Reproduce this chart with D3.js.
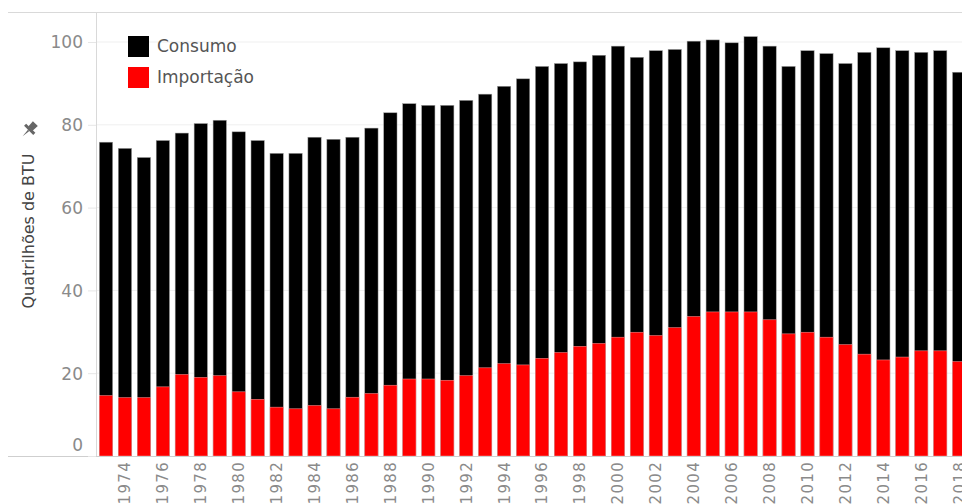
<!DOCTYPE html>
<html>
<head>
<meta charset="utf-8">
<script src="https://cdn.jsdelivr.net/npm/d3@7"></script>
<style>
  html, body { margin: 0; padding: 0; background: #fff; }
  svg { display: block; font-family: "DejaVu Sans", sans-serif; }
</style>
</head>
<body>
<svg id="chart" width="962" height="504"></svg>
<script>
// data (quadrillion BTU)
const years = d3.range(1973, 2019);
const consumo = [
  75.8, 74.3, 72.1, 76.2, 78.0, 80.3, 81.1, 78.3, 76.2, 73.1,
  73.1, 77.0, 76.5, 77.0, 79.2, 82.9, 85.1, 84.7, 84.7, 85.9,
  87.4, 89.3, 91.1, 94.1, 94.8, 95.2, 96.8, 99.0, 96.3, 97.9,
  98.2, 100.2, 100.5, 99.8, 101.3, 99.0, 94.1, 97.9, 97.2, 94.8,
  97.5, 98.6, 97.9, 97.5, 97.9, 92.7
];
const importacao = [
  14.6, 14.1, 14.1, 16.7, 19.7, 19.0, 19.4, 15.5, 13.7, 11.8,
  11.4, 12.2, 11.4, 14.2, 15.1, 17.1, 18.6, 18.6, 18.3, 19.4,
  21.3, 22.3, 22.0, 23.6, 25.0, 26.5, 27.2, 28.7, 29.9, 29.1,
  31.0, 33.7, 34.8, 34.8, 34.8, 32.9, 29.5, 29.9, 28.7, 26.9,
  24.6, 23.2, 23.9, 25.4, 25.4, 22.8
];
const yTicks = [0, 20, 40, 60, 80, 100];
const legendItems = [
  { label: 'Consumo', color: '#000' },
  { label: 'Importação', color: '#f00' }
];

const svg = d3.select('#chart');
const width = 962;

const margin = { top: 12, left: 96, bottom: 456 };
const step = 18.96;

const x = d3.scaleBand()
  .domain(years)
  .range([96.5, 96.5 + years.length * step])
  .paddingInner(0.3)
  .paddingOuter(0.15);

const y = d3.scaleLinear()
  .domain([0, (456 - 12) / 4.14])
  .range([margin.bottom, margin.top]);

// gridlines
svg.append('g')
  .selectAll('line')
  .data(yTicks.filter(d => d > 0))
  .join('line')
  .attr('x1', margin.left)
  .attr('x2', width)
  .attr('y1', d => y(d))
  .attr('y2', d => y(d))
  .attr('stroke', '#efefef')
  .attr('stroke-width', 1);

// frame lines
svg.append('line')
  .attr('x1', 8).attr('x2', width)
  .attr('y1', margin.top + 0.5).attr('y2', margin.top + 0.5)
  .attr('stroke', '#d9d9d9');
svg.append('line')
  .attr('x1', margin.left + 0.5).attr('x2', margin.left + 0.5)
  .attr('y1', margin.top).attr('y2', margin.bottom)
  .attr('stroke', '#d9d9d9');

// bars
const rows = years.map((yr, i) => ({ year: yr, consumo: consumo[i], importacao: importacao[i] }));

svg.append('g')
  .selectAll('rect')
  .data(rows)
  .join('rect')
  .attr('x', d => x(d.year))
  .attr('y', d => y(d.consumo))
  .attr('width', x.bandwidth())
  .attr('height', d => y(0) - y(d.consumo))
  .attr('fill', '#000')
  .attr('stroke', '#9a9a9a')
  .attr('stroke-width', 0.5);

svg.append('g')
  .selectAll('rect')
  .data(rows)
  .join('rect')
  .attr('x', d => x(d.year))
  .attr('y', d => y(d.importacao))
  .attr('width', x.bandwidth())
  .attr('height', d => y(0) - y(d.importacao))
  .attr('fill', '#f00')
  .attr('stroke', '#f7a0a0')
  .attr('stroke-width', 0.5);

// baseline
svg.append('line')
  .attr('x1', 8).attr('x2', width)
  .attr('y1', margin.bottom + 0.5).attr('y2', margin.bottom + 0.5)
  .attr('stroke', '#cfcfcf');

// y axis
const yAxis = d3.axisLeft(y)
  .tickValues(yTicks)
  .tickSize(8)
  .tickPadding(5);

const yg = svg.append('g')
  .attr('transform', `translate(${margin.left},0)`)
  .call(yAxis);
yg.select('.domain').remove();
yg.selectAll('.tick line').attr('stroke', '#e6e6e6');
yg.selectAll('.tick text')
  .attr('fill', '#8a8a8a')
  .attr('font-size', 17)
  .attr('font-family', '"DejaVu Sans", sans-serif')
  .attr('dy', d => d === 0 ? '-0.35em' : '0.35em');

// x axis, even years only (bottom of labels runs past the frame, as in the source)
const xAxis = d3.axisBottom(x)
  .tickValues(years.filter(d => d % 2 === 0))
  .tickSize(0)
  .tickPadding(0);

const xg = svg.append('g')
  .attr('transform', `translate(0,${margin.bottom})`)
  .call(xAxis);
xg.select('.domain').remove();
xg.selectAll('.tick text')
  .attr('fill', '#8a8a8a')
  .attr('font-size', 15)
  .attr('font-family', '"DejaVu Sans", sans-serif')
  .attr('letter-spacing', '1.3px')
  .attr('text-anchor', 'end')
  .attr('transform', 'rotate(-90)')
  .attr('x', -5)
  .attr('y', 0)
  .attr('dy', '0.36em');

// y axis title + pin
svg.append('text')
  .attr('transform', 'translate(34,231) rotate(-90)')
  .attr('text-anchor', 'middle')
  .attr('font-size', 16)
  .attr('fill', '#444')
  .text('Quatrilhões de BTU');

const pin = svg.append('g')
  .attr('transform', 'translate(29,130) rotate(45)')
  .attr('fill', '#666');
pin.append('path').attr('d', 'M-3.5,-9 L3.5,-9 L3,-2 L-3,-2 Z');
pin.append('rect').attr('x', -6.5).attr('y', -2.5).attr('width', 13).attr('height', 3);
pin.append('path').attr('d', 'M-1,0.5 L1,0.5 L0,9 Z');

// legend
const legend = svg.append('g')
  .attr('transform', 'translate(128,36)');
const li = legend.selectAll('g')
  .data(legendItems)
  .join('g')
  .attr('transform', (d, i) => `translate(0,${i * 31})`);
li.append('rect')
  .attr('width', 21)
  .attr('height', 21)
  .attr('fill', d => d.color);
li.append('text')
  .attr('x', 29)
  .attr('y', 16)
  .attr('font-size', 17)
  .attr('fill', '#555')
  .text(d => d.label);
</script>
</body>
</html>
